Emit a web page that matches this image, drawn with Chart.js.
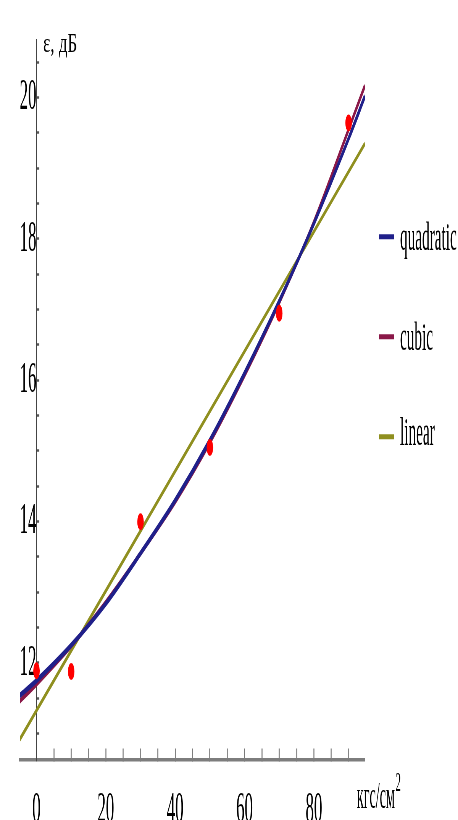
<!DOCTYPE html>
<html>
<head>
<meta charset="utf-8">
<script src="https://cdn.jsdelivr.net/npm/chart.js@4.4.0/dist/chart.umd.min.js"></script>
<style>
  html, body { margin: 0; padding: 0; overflow: hidden; background: #fff; }
  /* the original picture is squeezed sideways, so draw wide and squeeze */
  #wrap { width: 1200px; height: 820px; transform: scaleX(0.38167); transform-origin: 0 0; }
</style>
</head>
<body>
<div id="wrap"><canvas id="chart" width="1200" height="820"></canvas></div>
<script>
// measured points
const pressure = [0, 10, 30, 50, 70, 90];
const measured = [11.89, 11.88, 14.0, 15.05, 16.95, 19.64];

// fitted curves
const fitX = [-4.8, 0, 10, 20, 30, 40, 50, 60, 70, 80, 90, 94.7];
const quadratic = [11.54, 11.75, 12.25, 12.84, 13.55, 14.30, 15.15, 16.10, 17.12, 18.22, 19.42, 20.02];
const cubic = [11.46, 11.70, 12.24, 12.86, 13.55, 14.28, 15.12, 16.07, 17.10, 18.24, 19.55, 20.17];
const linearX = [-4.8, 94.7];
const linear = [10.92, 19.35];

// ticks
const xTicks = [0, 5, 10, 15, 20, 25, 30, 35, 40, 45, 50, 55, 60, 65, 70, 75, 80, 85, 90];
const xLabels = [0, 20, 40, 60, 80];
const yTicks = [11, 11.5, 12, 12.5, 13, 13.5, 14, 14.5, 15, 15.5, 16, 16.5, 17, 17.5, 18, 18.5, 19, 19.5, 20, 20.5];
const yLabels = [12, 14, 16, 18, 20];

const toXY = (xs, ys) => xs.map((x, i) => ({ x: x, y: ys[i] }));

const serif = 'Liberation Serif';
// small font for the unlabeled minor ticks so they take no room
const tickFont = labels => c => ({ family: serif, size: labels.includes(c.tick && c.tick.value) ? 44 : 4 });

// legend, axis captions (positions are in the unsqueezed canvas)
const extras = {
  id: 'extras',
  afterDraw(chart) {
    const ctx = chart.ctx;
    ctx.save();
    ctx.fillStyle = '#000';
    ctx.textBaseline = 'alphabetic';

    // y caption
    ctx.save();
    ctx.font = '27px "' + serif + '"';
    ctx.translate(113, 52);
    ctx.scale(1.65, 1);
    ctx.fillText('ε, дБ', 0, 0);
    ctx.restore();

    // x caption
    ctx.font = '37px "' + serif + '"';
    ctx.fillText('кгс/см', 935, 808);
    const w = ctx.measureText('кгс/см').width;
    ctx.font = '27px "' + serif + '"';
    ctx.fillText('2', 935 + w + 2, 791);

    // legend
    const rows = [[236.7, 250], [336.7, 350], [436.7, 445]];
    const items = chart.data.datasets.filter(d => d.inLegend);
    ctx.font = '40px "' + serif + '"';
    items.forEach((d, i) => {
      ctx.strokeStyle = d.borderColor;
      ctx.lineWidth = 5;
      ctx.beginPath();
      ctx.moveTo(993, rows[i][0]);
      ctx.lineTo(1032, rows[i][0]);
      ctx.stroke();
      ctx.fillText(d.label, 1048, rows[i][1]);
    });
    ctx.restore();
  }
};

new Chart(document.getElementById('chart'), {
  type: 'scatter',
  data: {
    datasets: [
      {
        label: 'data',
        data: toXY(pressure, measured),
        backgroundColor: '#ff0000',
        borderWidth: 0,
        pointRadius: 8.5
      },
      {
        label: 'quadratic',
        inLegend: true,
        data: toXY(fitX, quadratic),
        showLine: true,
        borderColor: '#20208a',
        borderWidth: 5.5,
        pointRadius: 0,
        cubicInterpolationMode: 'monotone'
      },
      {
        label: 'cubic',
        inLegend: true,
        data: toXY(fitX, cubic),
        showLine: true,
        borderColor: '#8a1848',
        borderWidth: 5,
        pointRadius: 0,
        cubicInterpolationMode: 'monotone'
      },
      {
        label: 'linear',
        inLegend: true,
        data: toXY(linearX, linear),
        showLine: true,
        borderColor: '#8f8f1f',
        borderWidth: 4.5,
        pointRadius: 0
      }
    ]
  },
  options: {
    responsive: false,
    animation: false,
    layout: { padding: { left: 52, right: 244, top: 33, bottom: 60 } },
    plugins: { legend: { display: false }, tooltip: { enabled: false } },
    scales: {
      x: {
        type: 'linear',
        position: { y: 10.627 },
        min: -4.8,
        max: 94.7,
        afterBuildTicks: s => { s.ticks = xTicks.map(v => ({ value: v })); },
        ticks: {
          autoSkip: false,
          maxRotation: 0,
          minRotation: 0,
          padding: 37,
          color: '#000',
          font: tickFont(xLabels),
          callback: v => xLabels.includes(v) ? String(v) : ''
        },
        grid: { drawOnChartArea: false, tickLength: -13, tickWidth: 2.5, tickColor: '#777' },
        border: { color: '#7d7d7d', width: 3.5 }
      },
      y: {
        type: 'linear',
        position: { x: 0 },
        min: 10.627,
        max: 20.81,
        afterBuildTicks: s => { s.ticks = yTicks.map(v => ({ value: v })); },
        ticks: {
          autoSkip: false,
          padding: 38,
          color: '#000',
          font: tickFont(yLabels),
          callback: v => yLabels.includes(v) ? String(v) : ''
        },
        grid: { drawOnChartArea: false, tickLength: -9, tickWidth: 2.5, tickColor: '#555' },
        border: { color: '#444', width: 3 }
      }
    }
  },
  plugins: [extras]
});
</script>
</body>
</html>
